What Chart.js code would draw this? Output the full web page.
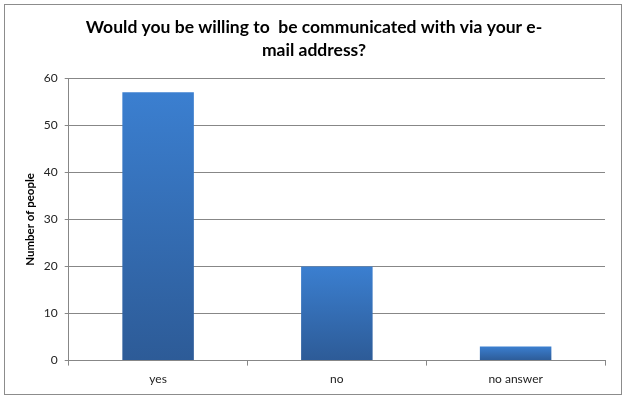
<!DOCTYPE html>
<html>
<head>
<meta charset="utf-8">
<script src="https://cdn.jsdelivr.net/npm/chart.js@4"></script>
<style>
  html, body { margin: 0; padding: 0; background: #fff; }
  #box { width: 626px; height: 400px; position: relative; }
</style>
</head>
<body>
<div id="box"><canvas id="grafico"></canvas></div>
<script>
// datos del grafico
const categorias = ["yes", "no", "no answer"];
const personas = [57, 20, 3];
const titulo = ["Would you be willing to  be communicated with via your e-", "mail address?"];
const tituloEje = "Number of people";

const colorGrid = "#878787";

// borde exterior del grafico
const marco = {
  id: "marco",
  beforeDraw(chart) {
    const c = chart.ctx;
    c.save();
    c.fillStyle = "#fff";
    c.fillRect(0, 0, chart.width, chart.height);
    c.strokeStyle = "#8c8c8c";
    c.lineWidth = 1;
    c.strokeRect(4.5, 4.5, 617, 390);
    c.restore();
  }
};

// degradado por barra, claro arriba y oscuro abajo
function degradado(context) {
  const chart = context.chart;
  const y = chart.scales.y;
  if (!y || !chart.chartArea) return "#3878c8";
  const v = context.raw;
  const top = y.getPixelForValue(v);
  const base = y.getPixelForValue(0);
  if (!isFinite(top) || !isFinite(base) || top === base) return "#3878c8";
  const g = chart.ctx.createLinearGradient(0, top, 0, base);
  g.addColorStop(0, "#3b7fd0");
  g.addColorStop(1, "#2d5b97");
  return g;
}

new Chart("grafico", {
  type: "bar",
  data: {
    labels: categorias,
    datasets: [{
      data: personas,
      backgroundColor: degradado,
      borderWidth: 0,
      categoryPercentage: 1,
      barPercentage: 0.4
    }]
  },
  options: {
    responsive: true,
    maintainAspectRatio: false,
    animation: false,
    layout: { padding: { left: 23, right: 21, top: 16, bottom: 8 } },
    plugins: {
      legend: { display: false },
      tooltip: { enabled: false },
      title: {
        display: true,
        text: titulo,
        color: "#000",
        font: { family: "Lato", size: 17.5, weight: "bold", lineHeight: 1.32 },
        padding: { top: 0, bottom: 16 }
      }
    },
    scales: {
      x: {
        offset: true,
        grid: {
          display: true,
          offset: true,
          drawOnChartArea: false,
          drawTicks: true,
          tickLength: 5,
          color: colorGrid
        },
        border: { display: true, color: colorGrid },
        ticks: {
          color: "#222",
          font: { family: "Lato", size: 12 },
          padding: 6
        }
      },
      y: {
        min: 0,
        max: 60,
        ticks: {
          stepSize: 10,
          color: "#222",
          font: { family: "Lato", size: 12 },
          padding: 7
        },
        grid: { color: colorGrid, tickLength: 4 },
        border: { display: true, color: colorGrid },
        title: {
          display: true,
          text: tituloEje,
          color: "#000",
          font: { family: "Lato", size: 11.5, weight: "bold" },
          padding: { top: 0, bottom: 0 }
        }
      }
    }
  },
  plugins: [marco]
});
</script>
</body>
</html>
